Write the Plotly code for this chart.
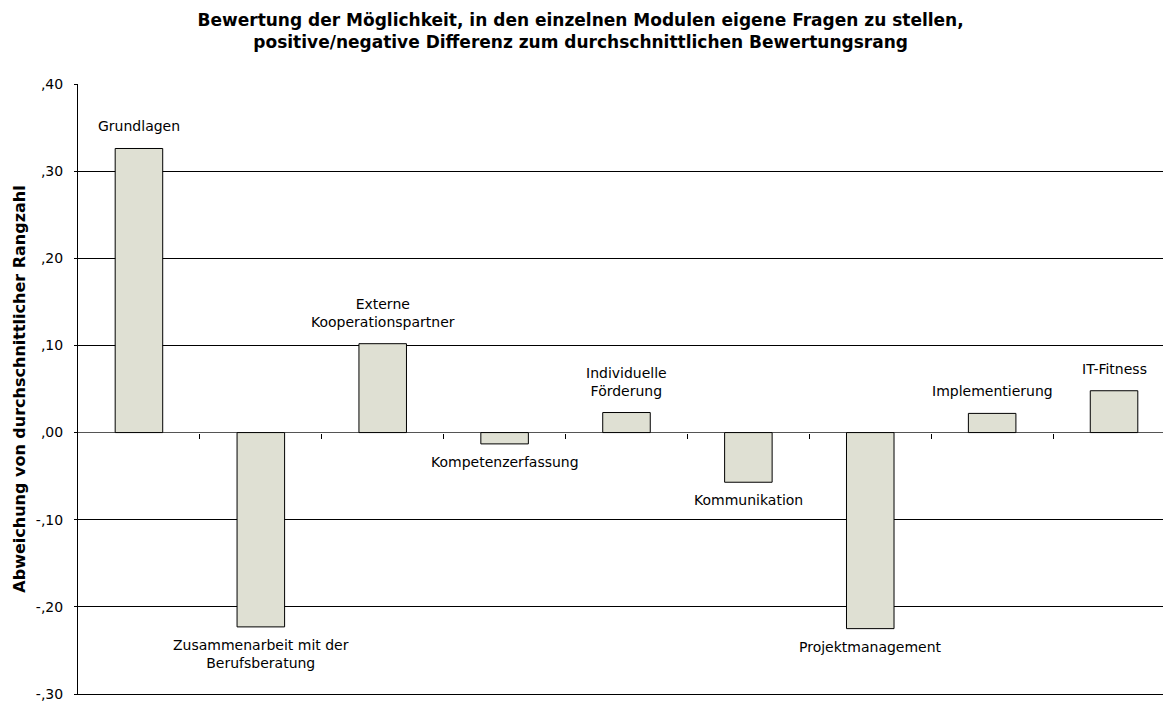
import plotly.graph_objects as go

categories = ["Grundlagen", "Zusammenarbeit mit der<br>Berufsberatung", "Externe<br>Kooperationspartner",
              "Kompetenzerfassung", "Individuelle<br>Förderung", "Kommunikation",
              "Projektmanagement", "Implementierung", "IT-Fitness"]
values = [0.326, -0.223, 0.102, -0.013, 0.023, -0.057, -0.225, 0.022, 0.048]
ytick_vals = [0.4, 0.3, 0.2, 0.1, 0.0, -0.1, -0.2, -0.3]
ytick_text = [",40", ",30", ",20", ",10", ",00", "-,10", "-,20", "-,30"]

LABEL_FONT = dict(family="DejaVu Sans", size=14, color="#000")
x_idx = list(range(len(categories)))
XR = [-0.5, 8.533]

fig = go.Figure()
fig.add_trace(go.Bar(
    x=x_idx, y=values, width=0.39,
    marker=dict(color="#DFE0D3", line=dict(color="#000", width=1)),
    hoverinfo="skip", showlegend=False,
))

annotations = []
for i, (c, v) in enumerate(zip(categories, values)):
    if v >= 0:
        annotations.append(dict(x=i, y=v, xref="x", yref="y", text=c, showarrow=False,
                                yanchor="bottom", yshift=12, font=LABEL_FONT, align="center"))
    else:
        annotations.append(dict(x=i, y=v, xref="x", yref="y", text=c, showarrow=False,
                                yanchor="top", yshift=-8, font=LABEL_FONT, align="center"))

fig.update_layout(
    width=1171, height=702,
    margin=dict(l=70, r=0, t=76, b=16),
    paper_bgcolor="white", plot_bgcolor="white",
    title=dict(
        text="Bewertung der Möglichkeit, in den einzelnen Modulen eigene Fragen zu stellen,<br>positive/negative Differenz zum durchschnittlichen Bewertungsrang",
        x=0.489, xanchor="center", y=0.974, yanchor="top",
        font=dict(family="DejaVu Sans", size=17, color="#000", weight="bold"),
    ),
    annotations=annotations,
    xaxis=dict(
        range=XR, showticklabels=False, showgrid=False, zeroline=False,
        showline=True, linecolor="#000", linewidth=1, ticks="", fixedrange=True,
    ),
    xaxis2=dict(
        overlaying="x", anchor="free", position=0.3 / 0.7,
        range=XR, tickmode="array", tickvals=[i + 0.5 for i in range(8)],
        showticklabels=False, ticks="outside", ticklen=5, tickcolor="#000",
        showgrid=False, zeroline=False, showline=False,
    ),
    yaxis=dict(
        range=[-0.3, 0.4], tickmode="array", tickvals=ytick_vals, ticktext=ytick_text,
        showgrid=True, gridcolor="#000", gridwidth=1,
        zeroline=True, zerolinecolor="#555", zerolinewidth=1,
        showline=True, linecolor="#000", linewidth=1,
        ticks="outside", ticklen=3, tickcolor="#000", ticklabelstandoff=8,
        tickfont=dict(family="DejaVu Sans", size=14, color="#000"),
        title=dict(text="Abweichung von durchschnittlicher Rangzahl",
                   font=dict(family="DejaVu Sans", size=16, color="#000", weight="bold"),
                   standoff=6),
    ),
)
fig.add_trace(go.Scatter(x=[0], y=[None], xaxis="x2", showlegend=False, hoverinfo="skip"))

fig.write_html("out.html")
